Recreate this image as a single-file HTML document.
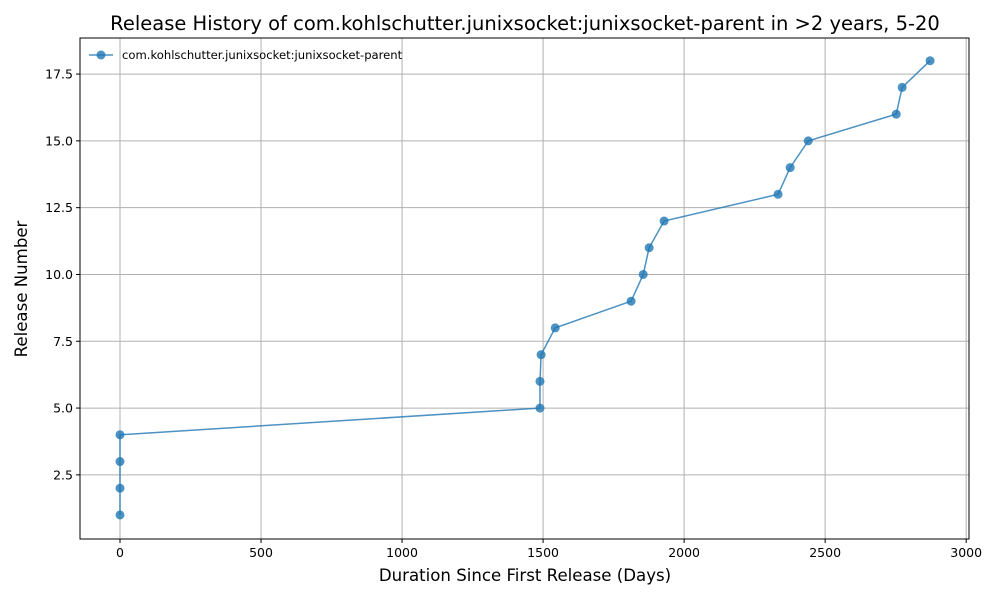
<!DOCTYPE html>
<html><head><meta charset="utf-8"><style>
html,body{margin:0;padding:0;background:#fff;}
svg text{font-family:"DejaVu Sans","Liberation Sans",sans-serif;}
</style></head><body>
<svg id="chart" width="1000" height="600" xmlns="http://www.w3.org/2000/svg">
<rect width="1000" height="600" fill="#fff"/>
<text x="525" y="30" font-size="19.5" text-anchor="middle">Release History of com.kohlschutter.junixsocket:junixsocket-parent in &gt;2 years, 5-20</text>
<g id="grid"></g>
<g id="ticks"></g>
<g id="series"></g>
<rect x="80" y="38" width="889" height="501" fill="none" stroke="#000" stroke-width="1"/>
<text x="525" y="581" font-size="16.6" text-anchor="middle">Duration Since First Release (Days)</text>
<text x="27" y="289" font-size="16.6" text-anchor="middle" transform="rotate(-90 27 289)">Release Number</text>
<g>
<line x1="89" y1="55" x2="113" y2="55" stroke="#1f77b4" stroke-opacity="0.8" stroke-width="1.5"/>
<circle cx="101" cy="55" r="4.5" fill="#1f77b4" fill-opacity="0.8"/>
<text x="122" y="59" font-size="11.6">com.kohlschutter.junixsocket:junixsocket-parent</text>
</g>
</svg>
<script>
const days = [0,0,0,0,1489,1489,1493,1543,1812,1855,1876,1929,2333,2376,2440,2752,2773,2872];
const releases = [1,2,3,4,5,6,7,8,9,10,11,12,13,14,15,16,17,18];
const xTicks = [0,500,1000,1500,2000,2500,3000];
const yTicks = [2.5,5.0,7.5,10.0,12.5,15.0,17.5];
const yTickLabels = ["2.5","5.0","7.5","10.0","12.5","15.0","17.5"];

const L=80,R=969,T=38,B=539;
const xMin=-141.8,xMax=3010,yMin=0.1,yMax=18.85;
const X=v=>L+(v-xMin)/(xMax-xMin)*(R-L);
const Y=v=>B-(v-yMin)/(yMax-yMin)*(B-T);
const NS="http://www.w3.org/2000/svg";
function mk(tag,attrs,parent){const e=document.createElementNS(NS,tag);for(const k in attrs)e.setAttribute(k,attrs[k]);parent.appendChild(e);return e;}
const grid=document.getElementById('grid'),ticks=document.getElementById('ticks'),series=document.getElementById('series');
xTicks.forEach(v=>{
  const g=mk('line',{x1:X(v),x2:X(v),y1:T,y2:B,stroke:'#b0b0b0','stroke-width':1},grid);
  
  
  mk('line',{x1:X(v),x2:X(v),y1:B,y2:B+4,stroke:'#000'},ticks);
  const t=mk('text',{x:X(v),y:B+18,'font-size':12.5,'text-anchor':'middle'},ticks);
  t.textContent=String(v);
  
  
});
yTicks.forEach((v,i)=>{
  const g=mk('line',{x1:L,x2:R,y1:Y(v),y2:Y(v),stroke:'#b0b0b0','stroke-width':1},grid);
  
  
  mk('line',{x1:L-4,x2:L,y1:Y(v),y2:Y(v),stroke:'#000'},ticks);
  const t=mk('text',{x:L-7,y:Y(v)+4.5,'font-size':12.5,'text-anchor':'end'},ticks);
  t.textContent=yTickLabels[i];
  
  
});
const pl=mk('polyline',{points:days.map((d,i)=>X(d)+','+Y(releases[i])).join(' '),fill:'none',stroke:'#1f77b4','stroke-opacity':0.8,'stroke-width':1.5},series);


days.forEach((d,i)=>{
  const c=mk('circle',{cx:X(d),cy:Y(releases[i]),r:4.5,fill:'#1f77b4','fill-opacity':0.8},series);
  
  
});
</script>
</body></html>
